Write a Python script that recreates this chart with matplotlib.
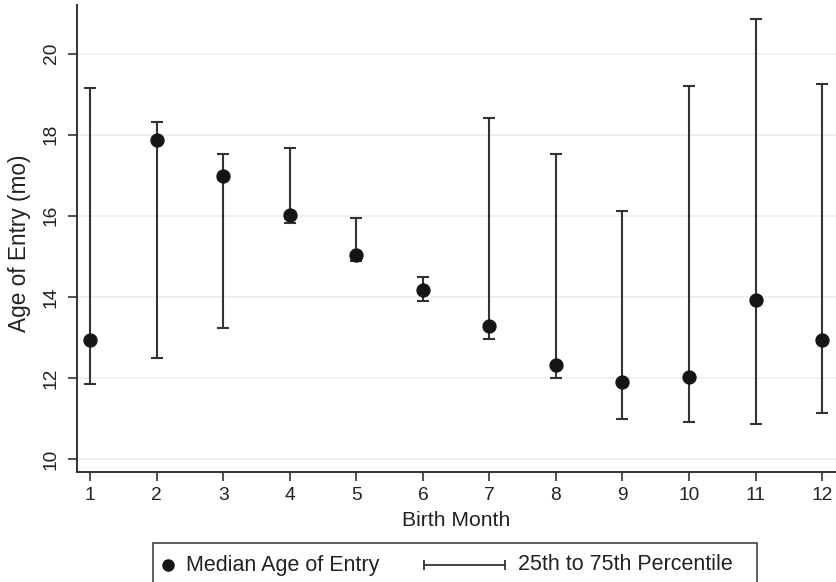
import matplotlib
matplotlib.use("Agg")
import matplotlib.pyplot as plt
from matplotlib.lines import Line2D
from matplotlib.patches import Rectangle

# datos
meses = [1, 2, 3, 4, 5, 6, 7, 8, 9, 10, 11, 12]
mediana = [12.93, 17.86, 16.98, 16.03, 15.04, 14.18, 13.27, 12.33, 11.89, 12.02, 13.92, 12.94]
p25 = [11.86, 12.48, 13.23, 15.83, 14.88, 13.89, 12.95, 12.00, 10.98, 10.91, 10.87, 11.14]
p75 = [19.16, 18.31, 17.52, 17.67, 15.94, 14.50, 18.41, 17.52, 16.11, 19.21, 20.86, 19.26]
yticks = [10, 12, 14, 16, 18, 20]

plt.rcParams["font.family"] = ["Liberation Sans", "DejaVu Sans"]

W, H = 836, 582
fig = plt.figure(figsize=(W / 100, H / 100), dpi=100)
ax = fig.add_axes([77 / W, 1 - 472 / H, 1 - 77 / W, (472 - 5) / H])

oscuro = "#333333"
texto = "#222222"
err_lo = [m - a for m, a in zip(mediana, p25)]
err_hi = [b - m for m, b in zip(mediana, p75)]
ax.errorbar(meses, mediana, yerr=[err_lo, err_hi], fmt="none", ecolor=oscuro,
            elinewidth=1.5, capsize=4.3, capthick=1.5, zorder=2)
ax.plot(meses, mediana, "o", color="#151515", markersize=9.3, zorder=3)

ax.set_xlim(0.80, 12.21)
ax.set_ylim(9.68, 21.2)
ax.set_xticks(meses)
ax.set_yticks(yticks)
ax.set_yticklabels([str(t) for t in yticks], rotation=90, va="center")
ax.grid(axis="y", color="#ededed", linewidth=1.2)
ax.set_axisbelow(True)

for lado in ["top", "right"]:
    ax.spines[lado].set_visible(False)
for lado in ["left", "bottom"]:
    ax.spines[lado].set_color(oscuro)
    ax.spines[lado].set_linewidth(1.4)
ax.tick_params(axis="both", colors=oscuro, labelcolor=texto, labelsize=13.8,
               length=6.5, width=1.2)
ax.tick_params(axis="x", pad=4.5)
ax.tick_params(axis="y", pad=6)

ax.set_xlabel("Birth Month", fontsize=15.2, color=texto)
ax.xaxis.set_label_coords(0.5, (472 - 520) / 467)
ax.xaxis.label.set_va("center")
ax.set_ylabel("Age of Entry (mo)", fontsize=16.3, color=texto)
ax.yaxis.set_label_coords((20 - 77) / (W - 77), (472 - 243) / 467)
ax.yaxis.label.set_va("center")

# leyenda dibujada a mano, cortada por el borde inferior como en el original
def fx(px):
    return px / W

def fy(py):
    return 1 - py / H

fig.patches.append(Rectangle((fx(153), fy(590)), fx(757) - fx(153), fy(543) - fy(590),
                             transform=fig.transFigure, fill=False,
                             edgecolor=oscuro, linewidth=1.1))
fig.lines.append(Line2D([fx(168)], [fy(565)], marker="o", markersize=8,
                        color="#151515", linestyle="none", transform=fig.transFigure))
fig.lines.append(Line2D([fx(424), fx(505)], [fy(565), fy(565)], color=oscuro,
                        linewidth=1.3, marker="|", markersize=7, markeredgewidth=1.3,
                        transform=fig.transFigure))
fig.text(fx(186), fy(565), "Median Age of Entry", fontsize=15.5, color=texto,
         va="center", ha="left")
fig.text(fx(518), fy(565), "25th to 75th Percentile", fontsize=15.5, color=texto,
         va="center", ha="left")

fig.savefig("out.png", dpi=100)
